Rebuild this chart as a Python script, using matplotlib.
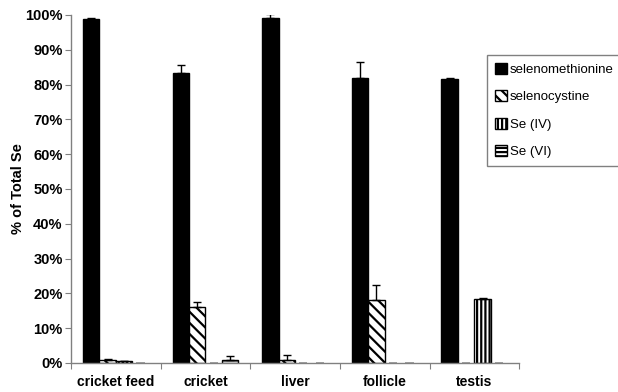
import matplotlib.pyplot as plt
import numpy as np

categories = ['cricket feed', 'cricket', 'liver', 'follicle', 'testis']
series = ['selenomethionine', 'selenocystine', 'Se (IV)', 'Se (VI)']
selenomethionine = [98.9, 83.2, 99.0, 82.0, 81.6]
selenomethionine_err = [0.3, 2.5, 1.3, 4.5, 0.2]
selenocystine = [0.8, 16.2, 1.0, 18.1, 0.0]
selenocystine_err = [0.3, 1.4, 1.3, 4.4, 0.0]
se_iv = [0.5, 0.0, 0.0, 0.0, 18.5]
se_iv_err = [0.1, 0.0, 0.0, 0.0, 0.3]
se_vi = [0.0, 0.8, 0.0, 0.0, 0.0]
se_vi_err = [0.0, 1.2, 0.0, 0.0, 0.0]

values = [selenomethionine, selenocystine, se_iv, se_vi]
errors = [selenomethionine_err, selenocystine_err, se_iv_err, se_vi_err]
fills = ['black', 'white', 'white', 'white']
hatches = [None, '\\\\\\', '||||', '----']

plt.rcParams['font.family'] = ['Liberation Sans', 'DejaVu Sans']
plt.rcParams['hatch.linewidth'] = 1.6

fig = plt.figure(figsize=(6.18, 3.92), dpi=100)
ax = fig.add_axes([0.115, 0.074, 0.725, 0.888])

x = np.arange(len(categories))
w = 0.184
handles = []
for j, (vals, errs) in enumerate(zip(values, errors)):
    pos = x + (j - 1.5) * w
    vals = np.array(vals)
    errs = np.array(errs)
    nz = vals > 0
    h = ax.bar(pos[nz], vals[nz], w, color=fills[j], edgecolor='black',
               linewidth=1.0, hatch=hatches[j], label=series[j], zorder=2)
    ax.errorbar(pos[nz], vals[nz], yerr=[np.zeros(nz.sum()), errs[nz]],
                fmt='none', ecolor='black', elinewidth=1, capsize=3,
                capthick=1, zorder=3)
    # zero values drawn as short gray dashes
    ax.hlines(np.zeros((~nz).sum()), pos[~nz] - w * 0.25, pos[~nz] + w * 0.25,
              color='#909090', linewidth=1.2, zorder=2)
    handles.append(h)

ax.set_xlim(-0.5, 4.5)
ax.set_ylim(0, 100)
ax.set_yticks(np.arange(0, 101, 10))
ax.set_yticklabels([f'{v}%' for v in range(0, 101, 10)], fontsize=10.5,
                   fontweight='bold')
ax.set_xticks(np.arange(-0.5, 5, 1))
ax.set_xticklabels([])
ax.set_xticks(x, minor=True)
ax.set_xticklabels(categories, minor=True, fontsize=10, fontweight='bold')
ax.tick_params(axis='x', which='minor', length=0, pad=9)
ax.tick_params(axis='x', which='major', length=4, color='#808080',
               direction='out')
ax.tick_params(axis='y', length=4, color='#808080', direction='out', pad=2)
ax.set_ylabel('% of Total Se', fontsize=10.5, fontweight='bold', labelpad=0)

for s in ['top', 'right']:
    ax.spines[s].set_visible(False)
for s in ['left', 'bottom']:
    ax.spines[s].set_color('#808080')
    ax.spines[s].set_linewidth(1.0)

leg = fig.legend(handles=handles, loc='upper left',
                 bbox_to_anchor=(0.788, 0.86), fontsize=9.5,
                 handlelength=0.9, handleheight=0.9, handletextpad=0.25,
                 labelspacing=1.1, borderpad=0.6, borderaxespad=0,
                 fancybox=False, edgecolor='#808080', framealpha=1)
leg.get_frame().set_linewidth(1.0)

fig.savefig('out.png', dpi=100)
